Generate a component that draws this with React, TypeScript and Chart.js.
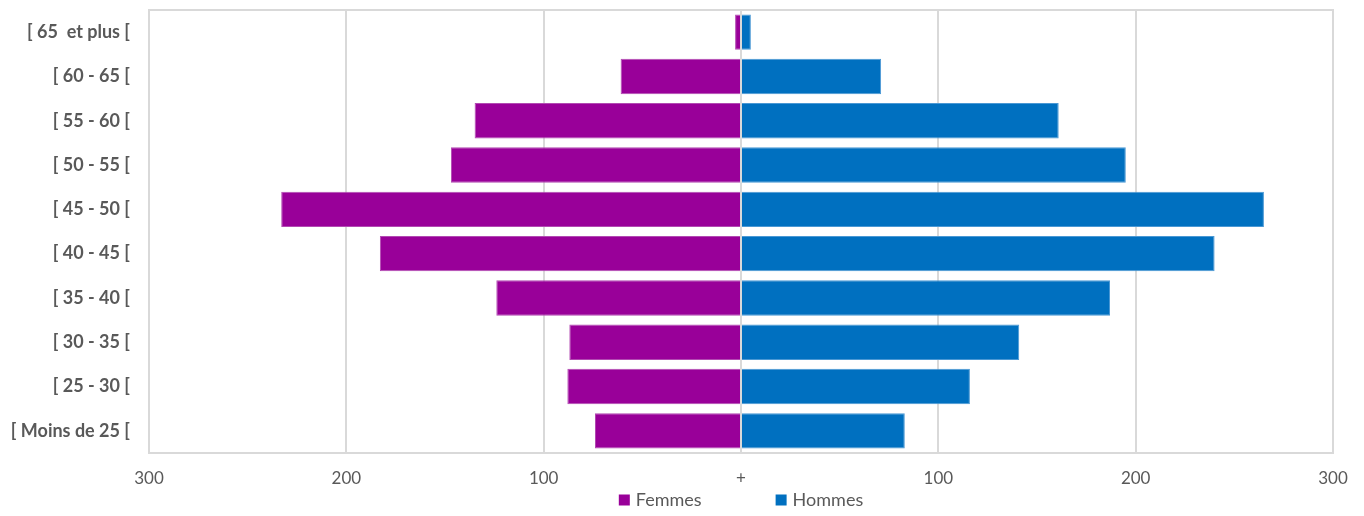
import React, { useEffect, useRef } from "react";
import { Chart, registerables } from "chart.js";

Chart.register(...registerables);

const categories = [
  "[ 65  et plus [",
  "[ 60 - 65 [",
  "[ 55 - 60 [",
  "[ 50 - 55 [",
  "[ 45 - 50 [",
  "[ 40 - 45 [",
  "[ 35 - 40 [",
  "[ 30 - 35 [",
  "[ 25 - 30 [",
  "[ Moins de 25 [",
];
const femmes = [3, 61, 135, 147, 233, 183, 124, 87, 88, 74];
const hommes = [5, 71, 161, 195, 265, 240, 187, 141, 116, 83];
const xTickValues = [-300, -200, -100, 0, 100, 200, 300];
const seriesNames = ["Femmes", "Hommes"];

const FEMMES_COLOR = "#990099";
const HOMMES_COLOR = "#0070C0";
const TEXT_COLOR = "#595959";
const GRID_COLOR = "#d9d9d9";
const FONT = "Lato, 'Open Sans', sans-serif";

const outlinePlugin = {
  id: "outline",
  beforeDatasetsDraw(chart: any) {
    const { ctx, chartArea } = chart;
    ctx.save();
    ctx.strokeStyle = GRID_COLOR;
    ctx.lineWidth = 2;
    ctx.strokeRect(chartArea.left, chartArea.top, chartArea.right - chartArea.left, chartArea.bottom - chartArea.top);
    ctx.restore();
  },
  afterDatasetsDraw(chart: any) {
    const { ctx, chartArea } = chart;
    const x = Math.round(chart.scales.x.getPixelForValue(0));
    ctx.save();
    ctx.strokeStyle = GRID_COLOR;
    ctx.lineWidth = 2;
    ctx.beginPath();
    ctx.moveTo(x, chartArea.top);
    ctx.lineTo(x, chartArea.bottom);
    ctx.stroke();
    ctx.restore();
  },
};

const legendPlugin = {
  id: "customLegend",
  afterDraw(chart: any) {
    const { ctx, chartArea } = chart;
    const colors = [FEMMES_COLOR, HOMMES_COLOR];
    ctx.save();
    ctx.font = `18px ${FONT}`;
    const box = 11;
    const textGap = 6;
    const itemGap = 74;
    const widths = seriesNames.map((n) => ctx.measureText(n).width);
    let total = 0;
    widths.forEach((w, i) => {
      total += box + textGap + w + (i < widths.length - 1 ? itemGap : 0);
    });
    const cx = (chartArea.left + chartArea.right) / 2;
    let x = cx - total / 2;
    const cy = 500;
    seriesNames.forEach((n, i) => {
      ctx.fillStyle = colors[i];
      ctx.fillRect(x, cy - box / 2, box, box);
      ctx.fillStyle = TEXT_COLOR;
      ctx.textBaseline = "middle";
      ctx.textAlign = "left";
      ctx.fillText(n, x + box + textGap, cy);
      x += box + textGap + widths[i] + itemGap;
    });
    ctx.restore();
  },
};

export default function App() {
  const canvasRef = useRef<HTMLCanvasElement | null>(null);

  useEffect(() => {
    if (!canvasRef.current) return;
    const chart = new Chart(canvasRef.current, {
      type: "bar",
      data: {
        labels: categories,
        datasets: [
          {
            label: seriesNames[0],
            data: femmes.map((v) => -v),
            backgroundColor: FEMMES_COLOR,
            borderColor: "#b24ab2",
            borderWidth: 1,
            barPercentage: 0.8,
            categoryPercentage: 1,
          },
          {
            label: seriesNames[1],
            data: hommes,
            backgroundColor: HOMMES_COLOR,
            borderColor: "#4a98d4",
            borderWidth: 1,
            barPercentage: 0.8,
            categoryPercentage: 1,
          },
        ],
      },
      options: {
        indexAxis: "y",
        animation: false,
        responsive: true,
        maintainAspectRatio: false,
        layout: { padding: { top: 10, right: 31, bottom: 23, left: 0 } },
        plugins: {
          legend: { display: false },
          tooltip: { enabled: false },
        },
        scales: {
          x: {
            stacked: true,
            min: -300,
            max: 300,
            afterBuildTicks: (scale: any) => {
              scale.ticks = xTickValues.map((v) => ({ value: v }));
            },
            afterFit: (scale: any) => {
              scale.height = 40;
              scale.paddingLeft = 0;
              scale.paddingRight = 0;
            },
            grid: { color: GRID_COLOR, lineWidth: 2, drawTicks: false },
            border: { display: false },
            ticks: {
              padding: 15,
              color: TEXT_COLOR,
              font: { family: FONT, size: 17 },
              callback: (v: any) => (Number(v) === 0 ? "+" : String(Math.abs(Number(v)))),
            },
          },
          y: {
            stacked: true,
            afterFit: (scale: any) => {
              scale.width = 149;
              scale.paddingTop = 0;
              scale.paddingBottom = 0;
            },
            grid: { display: false, drawTicks: false },
            border: { display: false },
            ticks: {
              padding: 19,
              color: TEXT_COLOR,
              font: { family: FONT, size: 18, weight: "bold" },
            },
          },
        },
      },
      plugins: [outlinePlugin, legendPlugin],
    });
    return () => chart.destroy();
  }, []);

  return (
    <div style={{ position: "fixed", left: 0, top: 0, width: 1364, height: 516, background: "#fff" }}>
      <canvas ref={canvasRef} />
    </div>
  );
}
